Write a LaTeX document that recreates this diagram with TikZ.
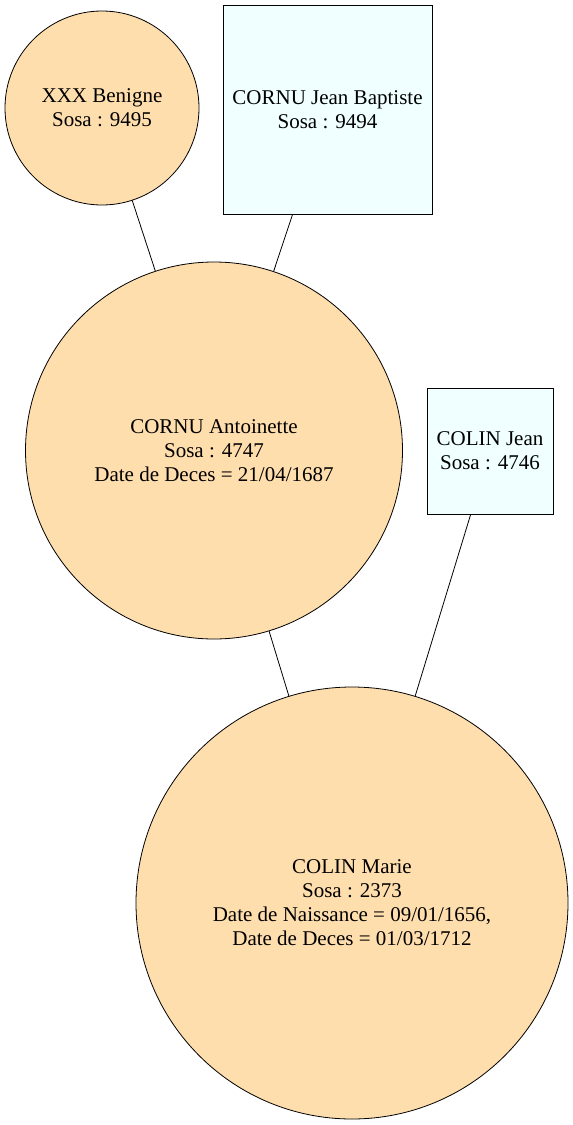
\documentclass[tikz,border=0pt]{standalone}
\usepackage{fontspec}
\setmainfont{Liberation Serif}
\usetikzlibrary{positioning}
\definecolor{personF}{HTML}{FFDEAD}
\definecolor{personM}{HTML}{F0FFFF}
\tikzset{
	femme/.style={draw, circle, fill=personF, align=center, inner sep=0pt},
	homme/.style={draw, rectangle, fill=personM, align=center, inner sep=0pt},
}

\begin{document}
\begin{tikzpicture}[x=1pt, y=-1pt, line width=0.8pt, font=\fontsize{21}{24}\selectfont]
	\useasboundingbox (0,0) rectangle (573,1125);
	\node (BEN) [femme, minimum size=194pt] at (102,108) {XXX Benigne\\Sosa : 9495};
	\node (JB) [homme, minimum width=209pt, minimum height=209pt] at (327.5,109.5) {CORNU Jean Baptiste\\Sosa : 9494};
	\node (ANT) [femme, minimum size=377pt] at (214,450.5) {CORNU Antoinette\\Sosa : 4747\\Date de Deces = 21/04/1687};
	\node (JEAN) [homme, minimum width=126pt, minimum height=126pt] at (490,451) {COLIN Jean\\Sosa : 4746};
	\node (MAR) [femme, minimum size=432pt] at (352,903) {COLIN Marie\\Sosa : 2373\\Date de Naissance = 09/01/1656,\\Date de Deces = 01/03/1712};

	\path [draw] (BEN) -- (ANT);
	\path [draw] (JB) -- (ANT);
	\path [draw] (ANT) -- (MAR);
	\path [draw] (JEAN) -- (MAR);
\end{tikzpicture}
\end{document}
